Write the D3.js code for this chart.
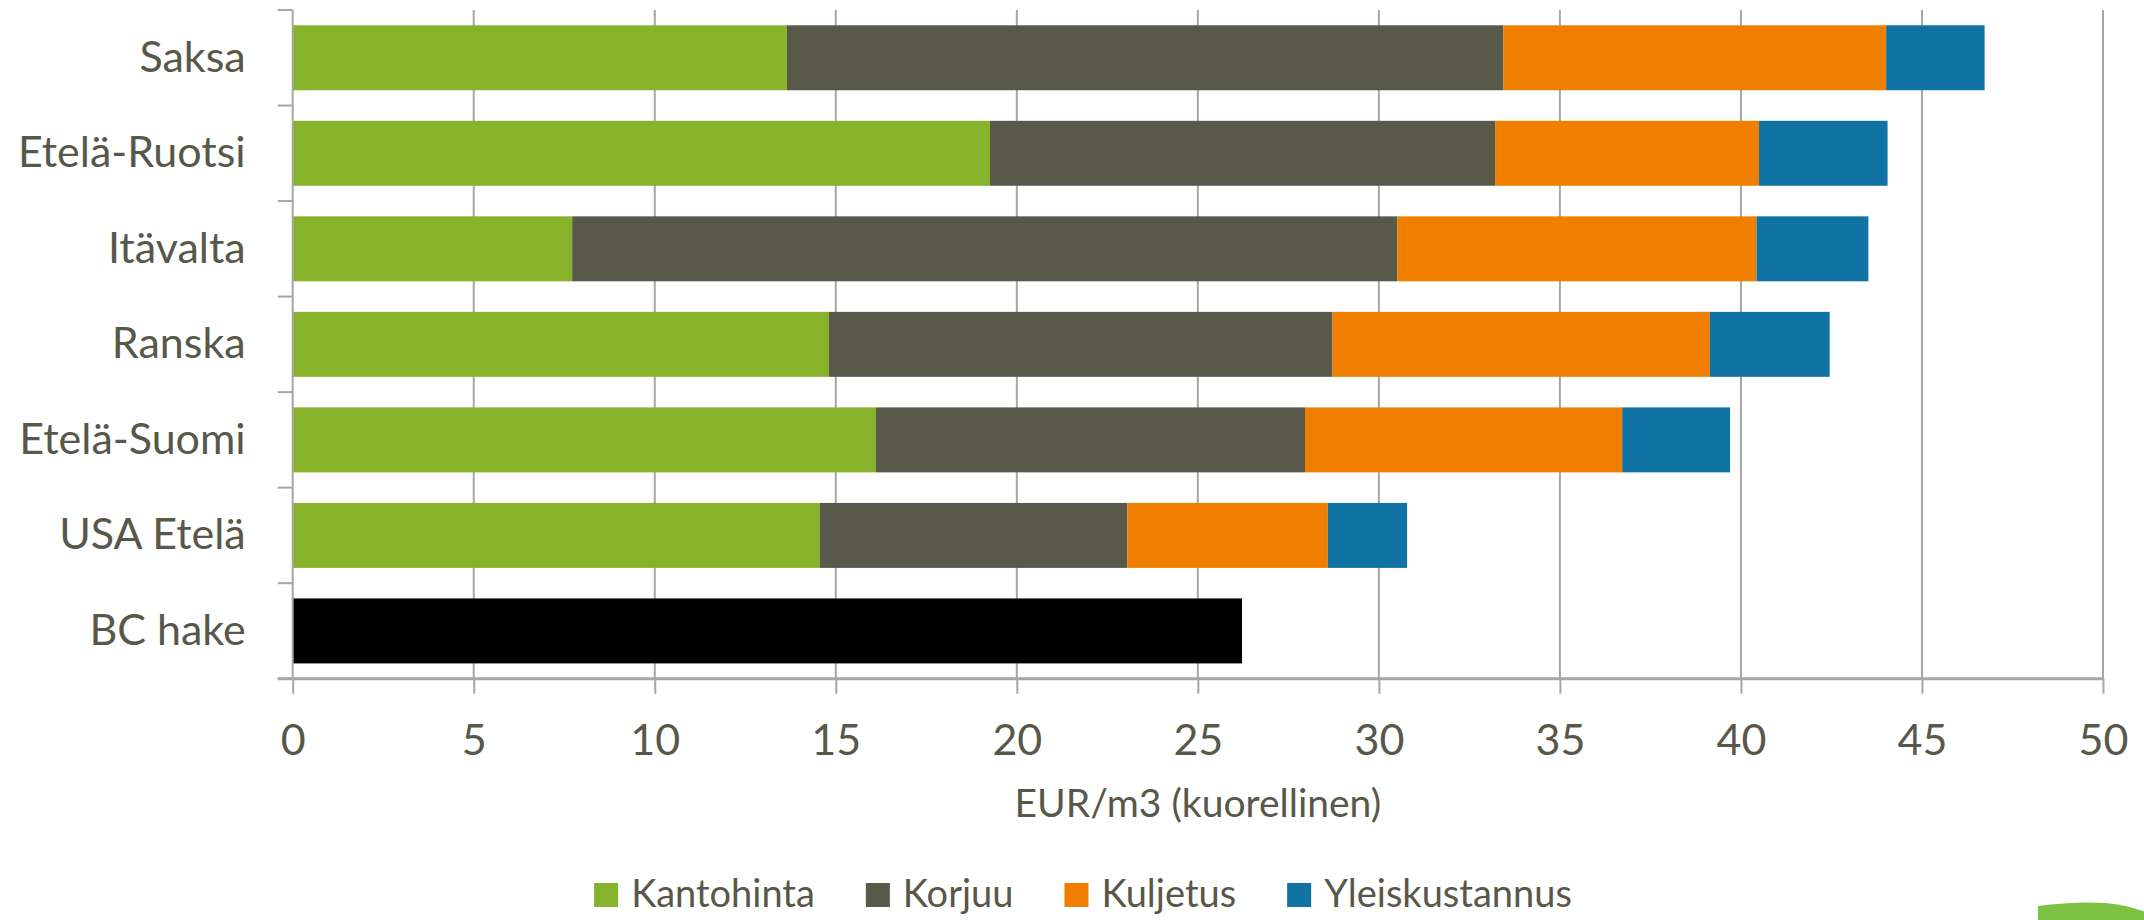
<!DOCTYPE html>
<html>
<head>
<meta charset="utf-8">
<script src="https://cdn.jsdelivr.net/npm/d3@7"></script>
<style>
  body { margin: 0; background: #fff; }
  svg { display: block; }
  text { font-family: Lato, "Open Sans", sans-serif; fill: #57584a; }
</style>
</head>
<body>
<div id="chart"></div>
<script>
const categories = ['Saksa', 'Etelä-Ruotsi', 'Itävalta', 'Ranska', 'Etelä-Suomi', 'USA Etelä', 'BC hake']
const seriesNames = ['Kantohinta', 'Korjuu', 'Kuljetus', 'Yleiskustannus']
const kantohinta = [13.65, 19.26, 7.72, 14.81, 16.11, 14.56, 0]
const korjuu = [19.79, 13.95, 22.79, 13.91, 11.85, 8.49, 0]
const kuljetus = [10.57, 7.29, 9.92, 10.42, 8.76, 5.54, 0]
const yleiskustannus = [2.72, 3.55, 3.09, 3.31, 2.98, 2.19, 0]
const bcHake = [0, 0, 0, 0, 0, 0, 26.22]
const xTicks = [0, 5, 10, 15, 20, 25, 30, 35, 40, 45, 50]
const xTitle = 'EUR/m3 (kuorellinen)'

const colors = {
  Kantohinta: '#86b329',
  Korjuu: '#59594a',
  Kuljetus: '#f07f00',
  Yleiskustannus: '#1172a4',
  'BC hake': '#000000'
}

const width = 2144
const height = 920
const margin = { top: 10, right: 41, bottom: 241.3, left: 292.7 }
const gridColor = '#a6a6a6'

// table for the stack
const rows = categories.map((c, i) => ({
  category: c,
  Kantohinta: kantohinta[i],
  Korjuu: korjuu[i],
  Kuljetus: kuljetus[i],
  Yleiskustannus: yleiskustannus[i],
  'BC hake': bcHake[i]
}))
const stackKeys = seriesNames.concat(['BC hake'])
const stacked = d3.stack().keys(stackKeys)(rows)

let svg = d3.select('#chart').append('svg')
  .attr('width', width)
  .attr('height', height)

let x = d3.scaleLinear()
  .domain([0, 50])
  .range([margin.left, width - margin.right])

let y = d3.scaleBand()
  .domain(categories)
  .range([margin.top, height - margin.bottom])
  .paddingInner(0.32)
  .paddingOuter(0.16)

let yBottom = height - margin.bottom

// vertical gridlines
svg.append('g')
  .attr('class', 'grid')
  .selectAll('line')
  .data(xTicks.filter(d => d > 0))
  .enter().append('line')
  .attr('x1', d => x(d))
  .attr('x2', d => x(d))
  .attr('y1', margin.top)
  .attr('y2', yBottom)
  .attr('stroke', gridColor)
  .attr('stroke-width', 2)

// bars
svg.append('g')
  .attr('class', 'bars')
  .selectAll('g')
  .data(stacked)
  .enter().append('g')
  .attr('fill', d => colors[d.key])
  .selectAll('rect')
  .data(d => d.filter(p => p[1] - p[0] > 0))
  .enter().append('rect')
  .attr('x', d => x(d[0]))
  .attr('width', d => x(d[1]) - x(d[0]))
  .attr('y', d => y(d.data.category))
  .attr('height', y.bandwidth())

// x axis
let xAxis = svg.append('g')
  .attr('transform', `translate(0,${yBottom})`)
  .call(d3.axisBottom(x)
    .tickValues(xTicks)
    .tickSize(15)
    .tickSizeOuter(0)
    .tickPadding(31)
  )
xAxis.select('.domain').remove()
xAxis.selectAll('.tick line')
  .attr('stroke', gridColor)
  .attr('stroke-width', 2)
xAxis.selectAll('.tick text')
  .style('font-size', '43px')
  .style('font-family', 'Lato, sans-serif')
  .attr('fill', '#57584a')

svg.append('line')
  .attr('x1', margin.left - 15)
  .attr('x2', x(50) + 1)
  .attr('y1', yBottom)
  .attr('y2', yBottom)
  .attr('stroke', gridColor)
  .attr('stroke-width', 3)

// y axis
let yAxis = svg.append('g')
  .attr('transform', `translate(${margin.left},0)`)
  .call(d3.axisLeft(y)
    .tickSize(0)
    .tickPadding(47)
  )
yAxis.select('.domain').remove()
yAxis.selectAll('.tick text')
  .style('font-size', '43px')
  .style('font-family', 'Lato, sans-serif')
  .attr('fill', '#57584a')

svg.append('line')
  .attr('x1', margin.left)
  .attr('x2', margin.left)
  .attr('y1', margin.top)
  .attr('y2', yBottom)
  .attr('stroke', gridColor)
  .attr('stroke-width', 2)

let boundaries = categories.map(c => y(c) - y.step() * y.paddingInner() / 2)
boundaries.push(yBottom)
svg.append('g')
  .selectAll('line')
  .data(boundaries)
  .enter().append('line')
  .attr('x1', margin.left - 15)
  .attr('x2', margin.left)
  .attr('y1', d => d)
  .attr('y2', d => d)
  .attr('stroke', gridColor)
  .attr('stroke-width', 2)

// axis title
svg.append('text')
  .attr('x', (x(0) + x(50)) / 2)
  .attr('y', 817)
  .attr('text-anchor', 'middle')
  .style('font-size', '39px')
  .text(xTitle)

// legend
let legend = svg.append('g')
  .attr('class', 'legend')
let items = legend.selectAll('g')
  .data(seriesNames)
  .enter().append('g')
items.append('rect')
  .attr('width', 24)
  .attr('height', 24)
  .attr('y', 883)
  .attr('fill', d => colors[d])
items.append('text')
  .attr('x', 37)
  .attr('y', 907)
  .style('font-size', '38px')
  .text(d => d)

let cursor = 0
let offsets = []
items.each(function (d) {
  offsets.push(cursor)
  let w = this.querySelector('text').getComputedTextLength()
  cursor += 37 + w + 51
})
let total = cursor - 51
let start = 1083 - total / 2
items.attr('transform', (d, i) => `translate(${start + offsets[i]},0)`)

// green corner shape
svg.append('path')
  .attr('d', 'M2038,920 L2038,906 Q2075,901 2105,903 Q2130,905 2150,914 L2150,920 Z')
  .attr('fill', '#7dc142')
</script>
</body>
</html>
